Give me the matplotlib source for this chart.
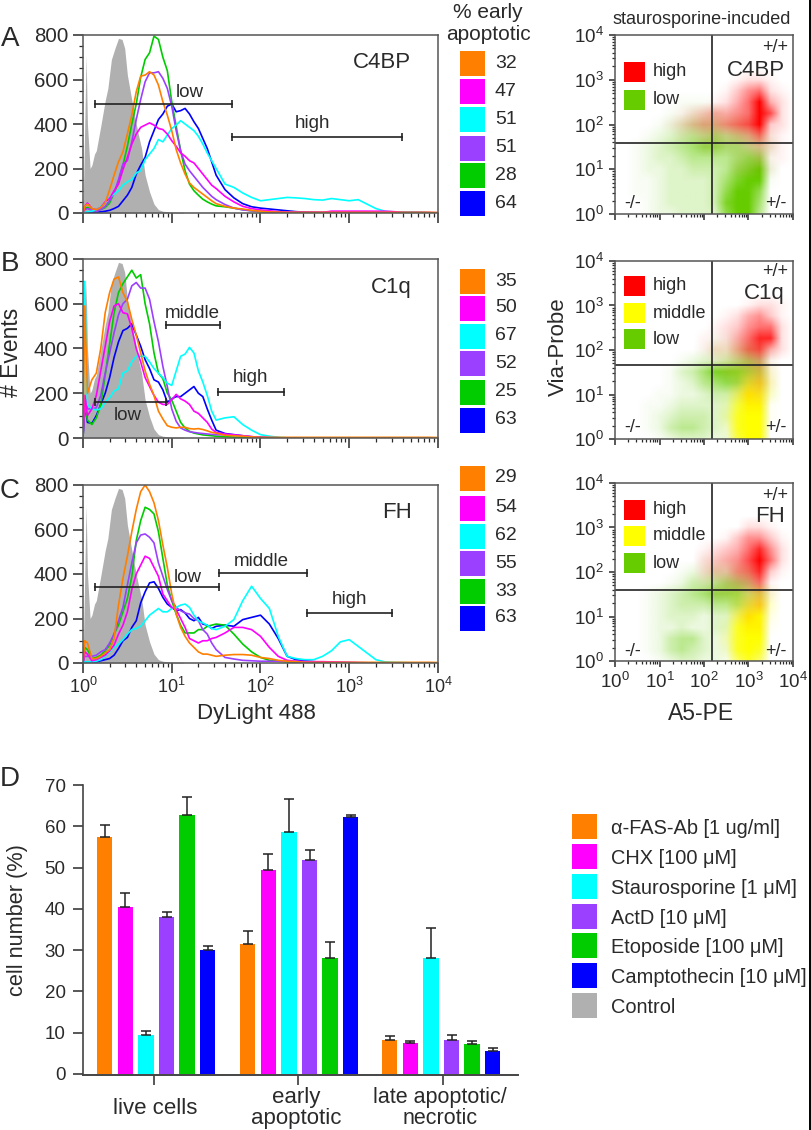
import numpy as np
import matplotlib
matplotlib.use('Agg')
import matplotlib.pyplot as plt
from matplotlib.colors import to_rgb
from matplotlib.patches import Rectangle
from matplotlib.ticker import MultipleLocator, LogLocator, NullFormatter

plt.rcParams['font.family'] = ['Liberation Sans', 'DejaVu Sans']
plt.rcParams['mathtext.default'] = 'regular'

W, H = 812, 1130
TXT = '#2a2a2a'

ORANGE, MAGENTA, CYAN = '#ff7f00', '#ff00ff', '#00ffff'
PURPLE, GREEN, BLUE = '#9b40ff', '#00cc00', '#0000ff'
GRAY = '#b0b0b0'
LOW, MID, HIGH = '#66cc00', '#ffff00', '#ff0000'

# histogram channel positions, log10 of DyLight 488
LOGX = [0, .02, .05, .10, .15, .20, .25, .30, .35, .40, .45, .50, .55, .60, .65, .70, .75, .80, .85, .90, .95,
        1.0, 1.05, 1.10, 1.15, 1.20, 1.25, 1.30, 1.35, 1.40, 1.45, 1.50, 1.6, 1.7, 1.8, 1.9, 2.0, 2.1, 2.2, 2.3,
        2.4, 2.5, 2.6, 2.7, 2.8, 2.9, 3.0, 3.1, 3.2, 3.3, 3.4, 3.5, 3.6, 3.7, 3.8, 3.9, 4.0]

control_x = [0, .02, .035, .05, .08, .10, .13, .15, .20, .25, .28, .32, .36, .40, .44, .47, .50, .54, .58, .62,
             .66, .70, .75, .80, .85, .90, 1.0, 1.13, 1.14]
control_y = [0, 400, 710, 400, 200, 215, 265, 280, 390, 505, 560, 690, 740, 785, 780, 740, 620, 530, 440, 360,
             290, 170, 95, 40, 15, 8, 4, 3, 0]

a_orange = [0, 30, 40, 20, 15, 25, 45, 105, 170, 230, 275, 355, 440, 545, 615, 620, 635, 620, 575, 500, 440,
            370, 285, 225, 175, 135, 115, 100, 85, 70, 55, 42, 30, 22, 18, 12, 8, 5, 4, 3,
            3, 3, 3, 3, 3, 3, 3, 3, 3, 3, 3, 3, 3, 3, 3, 3, 2]
a_green = [0, 20, 25, 15, 10, 15, 25, 45, 90, 140, 215, 300, 400, 490, 610, 690, 720, 795, 780, 700, 640,
           500, 390, 280, 190, 130, 100, 80, 62, 50, 40, 32, 28, 22, 15, 10, 6, 4, 2, 1,
           1, 1, 0, 0, 0, 0, 0, 0, 0, 0, 0, 0, 0, 0, 0, 0, 0]
a_magenta = [0, 30, 45, 20, 15, 25, 50, 65, 100, 130, 195, 250, 310, 355, 385, 395, 405, 395, 380, 375, 355,
             325, 300, 270, 255, 235, 225, 200, 175, 150, 125, 110, 75, 50, 30, 20, 14, 10, 6, 4,
             3, 3, 3, 3, 8, 8, 8, 8, 8, 8, 8, 6, 3, 2, 2, 2, 1]
a_purple = [0, 15, 20, 12, 8, 15, 30, 55, 90, 150, 220, 235, 320, 420, 510, 590, 630, 630, 635, 605, 560,
            480, 370, 280, 220, 190, 165, 140, 115, 95, 75, 60, 38, 22, 14, 10, 8, 6, 5, 4,
            4, 3, 3, 3, 6, 6, 6, 6, 6, 5, 5, 3, 2, 2, 2, 1, 1]
a_blue = [0, 2, 3, 3, 3, 5, 8, 12, 20, 30, 55, 80, 115, 175, 215, 250, 320, 370, 420, 445, 480,
          490, 455, 460, 470, 445, 410, 380, 335, 290, 230, 170, 105, 68, 42, 28, 22, 18, 14, 10,
          6, 4, 3, 2, 2, 2, 2, 2, 2, 2, 2, 2, 2, 3, 2, 1, 0]
a_cyan = [0, 3, 5, 8, 15, 30, 45, 70, 85, 100, 125, 140, 150, 180, 190, 240, 265, 290, 330, 320, 350,
          380, 395, 415, 400, 385, 370, 345, 310, 270, 235, 200, 130, 115, 90, 70, 55, 60, 65, 70,
          68, 65, 60, 58, 65, 60, 55, 60, 40, 20, 8, 5, 5, 3, 2, 1, 0]

b_orange = [0, 590, 200, 260, 290, 400, 560, 650, 710, 720, 650, 610, 530, 460, 380, 300, 240, 190, 120, 85, 55,
            48, 45, 48, 48, 42, 40, 42, 38, 32, 25, 22, 12, 10, 8, 5, 3, 3, 3, 3,
            3, 3, 3, 3, 3, 3, 3, 3, 3, 3, 3, 3, 3, 3, 3, 3, 2]
b_green = [0, 150, 80, 60, 90, 150, 280, 420, 560, 650, 690, 720, 750, 715, 730, 600, 510, 380, 290, 265, 200,
           170, 120, 70, 45, 30, 22, 18, 14, 12, 10, 8, 6, 4, 2, 1, 0, 0, 0, 0,
           0, 0, 0, 0, 0, 0, 0, 0, 0, 0, 0, 0, 0, 0, 0, 0, 0]
b_magenta = [0, 190, 100, 130, 190, 300, 410, 520, 590, 600, 560, 555, 490, 400, 340, 270, 230, 190, 160, 150, 150,
             170, 195, 175, 165, 150, 120, 110, 90, 70, 40, 25, 18, 14, 10, 6, 3, 2, 1, 0,
             0, 0, 0, 0, 0, 0, 0, 0, 0, 0, 0, 0, 0, 0, 0, 0, 0]
b_purple = [0, 190, 130, 130, 135, 190, 290, 380, 470, 550, 600, 620, 680, 695, 670, 670, 620, 520, 430, 320, 230,
            130, 75, 45, 35, 28, 25, 22, 20, 18, 16, 15, 14, 12, 10, 6, 3, 2, 1, 0,
            0, 0, 0, 0, 0, 0, 0, 0, 0, 0, 0, 0, 0, 0, 0, 0, 0]
b_blue = [0, 150, 70, 65, 100, 150, 200, 270, 360, 430, 480, 490, 510, 460, 410, 350, 310, 260, 250, 215, 160,
          175, 185, 185, 200, 215, 230, 200, 185, 130, 80, 35, 20, 15, 10, 5, 3, 2, 1, 0,
          0, 0, 0, 0, 0, 0, 0, 0, 0, 0, 0, 0, 0, 0, 0, 0, 0]
b_cyan = [0, 700, 150, 130, 125, 130, 160, 180, 210, 220, 290, 300, 340, 365, 365, 365, 340, 310, 290, 270, 245,
          235, 300, 365, 375, 405, 380, 300, 250, 190, 120, 80, 90, 95, 60, 35, 15, 8, 3, 1,
          0, 0, 0, 0, 0, 0, 0, 0, 0, 0, 0, 0, 0, 0, 0, 0, 0]

c_orange = [0, 100, 90, 20, 20, 30, 45, 60, 110, 260, 380, 480, 590, 690, 770, 800, 770, 720, 640, 530, 430,
            310, 220, 160, 120, 90, 70, 50, 40, 40, 35, 30, 35, 38, 38, 35, 25, 20, 12, 8,
            6, 3, 3, 3, 3, 3, 3, 3, 3, 3, 3, 3, 3, 3, 3, 3, 2]
c_green = [0, 70, 60, 20, 25, 35, 55, 80, 130, 170, 230, 290, 390, 550, 640, 700, 690, 670, 590, 470, 350,
           280, 220, 170, 135, 135, 135, 150, 150, 165, 170, 175, 170, 130, 85, 50, 25, 12, 8, 5,
           3, 2, 1, 0, 0, 0, 0, 0, 0, 0, 0, 0, 0, 0, 0, 0, 0]
c_magenta = [0, 50, 40, 10, 15, 25, 35, 55, 80, 130, 170, 230, 330, 400, 440, 480, 470, 430, 390, 310, 280,
             250, 240, 200, 160, 110, 100, 90, 100, 100, 110, 115, 135, 160, 160, 150, 120, 70, 30, 12,
             8, 6, 6, 6, 5, 4, 3, 2, 1, 0, 0, 0, 0, 0, 0, 0, 0]
c_purple = [0, 30, 30, 30, 35, 50, 60, 90, 130, 190, 250, 350, 450, 540, 575, 580, 565, 540, 450, 390, 330,
            280, 250, 235, 225, 220, 200, 190, 150, 130, 90, 60, 25, 18, 12, 10, 8, 8, 8, 8,
            6, 6, 5, 5, 4, 3, 2, 1, 1, 0, 0, 0, 0, 0, 0, 0, 0]
c_blue = [0, 5, 5, 5, 5, 10, 15, 20, 35, 65, 100, 115, 160, 190, 270, 320, 360, 365, 335, 295, 265,
          250, 235, 240, 225, 200, 190, 205, 175, 170, 155, 165, 170, 165, 195, 205, 215, 175, 110, 30,
          15, 10, 6, 4, 2, 1, 1, 0, 0, 0, 0, 0, 0, 0, 0, 0, 0]
c_cyan = [0, 5, 5, 5, 8, 15, 30, 50, 70, 85, 105, 130, 150, 155, 165, 190, 215, 230, 245, 230, 230,
          245, 250, 260, 265, 250, 215, 190, 180, 170, 155, 150, 165, 195, 280, 345, 290, 245, 120, 30,
          20, 15, 15, 30, 55, 95, 105, 75, 45, 15, 5, 3, 2, 1, 0, 0, 0]

pct_a = ['32', '47', '51', '51', '28', '64']
pct_b = ['35', '50', '67', '52', '25', '63']
pct_c = ['29', '54', '62', '55', '33', '63']

# gates: name, from, to (log10), height, label x, label y
gates_a = [('low', .13, 1.68, 490, 1.20, 540), ('high', 1.68, 3.60, 340, 2.59, 400)]
gates_b = [('low', .13, .93, 160, .50, 100), ('middle', .93, 1.54, 505, 1.23, 555), ('high', 1.52, 2.27, 206, 1.89, 270)]
gates_c = [('low', .14, 1.53, 342, 1.18, 385), ('middle', 1.53, 2.52, 404, 2.01, 455), ('high', 2.52, 3.48, 224, 3.00, 285)]

# dot density, 0 (none) to 9 (solid).
# rows run from 10^4 down to 10^0, columns from 10^0 to 10^4, quarter decade apart
EMPTY = '0' * 17
a_low = [EMPTY] * 6 + ['00000011100000000', '00000112221110000', '00001234443321000', '00012345565543100',
         '00123456776654200', '00123345555677100', '00122334445789200', '00112333346899100',
         '00112333347997000', '00012333348996000', '00012233337995000']
a_high = [EMPTY] * 4 + ['00000000000122100', '00000000001356210', '00000000012469420', '00000012344569720',
          '00000123445679320', '00000011222346210', '00000000111123210', '00000000000112110',
          '00000000000111100'] + [EMPTY] * 4
b_low = [EMPTY] * 7 + ['00000000011111000', '00000000122343100', '00000012334565100', '00000134688876100',
         '00000123567765100', '00001122344443100', '00011233333332000', '00012344433232000',
         '00012455432232000', '00001233322221000']
b_mid = [EMPTY] * 8 + ['00000000011100000', '00000000001110000', '00000000001234200', '00000000000267300',
         '00000000001598300', '00000000002799100', '00000000003899100', '00000000002899000', '00000000001799000']
b_high = [EMPTY] * 4 + ['00000000000012210', '00000000001245310', '00000000012356620', '00000000112468820',
          '00000000122467420', '00000000011234100', '00000000001123100', '00000000000123100',
          '00000000000122000', '00000000000011000'] + [EMPTY] * 3
c_low = [EMPTY] * 7 + ['00000000111100000', '00000012233331000', '00000124456652000', '00012345677755100',
         '00012344455653000', '00012333233332000', '00012232233221000', '00012455322222000',
         '00012454322222000', '00001233221111000']
c_mid = [EMPTY] * 10 + ['00000000001235200', '00000000001368300', '00000000001699200', '00000000002899100',
         '00000000003899000', '00000000002898000', '00000000001686000']
c_high = [EMPTY] * 4 + ['00000000000022100', '00000000001355310', '00000000123468520', '00000000234579620',
          '00000000233568310', '00000000112346100', '00000000011123100', '00000000000123000',
          '00000000000121000', '00000000000011000'] + [EMPTY] * 3

quad_x = 151
quad_a, quad_b, quad_c = 39, 46, 40

# bar panel
groups = ['live cells', 'early\napoptotic', 'late apoptotic/\nnecrotic']
treatments = ['α-FAS-Ab [1 ug/ml]', 'CHX [100 μM]', 'Staurosporine [1 μM]', 'ActD [10 μM]',
              'Etoposide [100 μM]', 'Camptothecin [10 μM]', 'Control']
live_mean = [57.5, 40.5, 9.3, 38.0, 62.7, 30.0]
live_top = [60.2, 43.9, 10.3, 39.2, 67.2, 30.9]
early_mean = [31.5, 49.5, 58.7, 51.9, 28.0, 62.2]
early_top = [34.7, 53.2, 66.6, 54.3, 32.0, 62.8]
late_mean = [8.2, 7.4, 28.1, 8.1, 7.2, 5.5]
late_top = [9.1, 7.9, 35.4, 9.4, 7.9, 6.3]

curve_colors = [BLUE, GREEN, PURPLE, CYAN, MAGENTA, ORANGE]
swatch_colors = [ORANGE, MAGENTA, CYAN, PURPLE, GREEN, BLUE]


def px_axes(fig, left, top, right, bottom):
    return fig.add_axes([left / W, 1 - bottom / H, (right - left) / W, (bottom - top) / H])


def style_log(axis):
    axis.set_major_locator(LogLocator(base=10, numticks=6))
    axis.set_minor_locator(LogLocator(base=10, subs=np.arange(2, 10), numticks=6))
    axis.set_minor_formatter(NullFormatter())


def hist_panel(fig, top, bottom, curves, gates, show_x):
    ax = px_axes(fig, 83, top, 438, bottom)
    ax.fill_between(10 ** np.array(control_x), control_y, color=GRAY, lw=0)
    for y, c in zip(curves, curve_colors):
        ax.plot(10 ** np.array(LOGX), y, color=c, lw=1.2)
    for label, a, b, h, lx, ly in gates:
        ax.plot([10 ** a, 10 ** b], [h, h], color='#222222', lw=1.2, marker='|', ms=6, mew=1.2)
        ax.text(10 ** lx, ly, label, ha='center', va='center', fontsize=13.5, color=TXT)
    ax.set_xscale('log')
    ax.set_xlim(1, 1e4)
    ax.set_ylim(0, 800)
    ax.yaxis.set_major_locator(MultipleLocator(200))
    ax.yaxis.set_minor_locator(MultipleLocator(50))
    style_log(ax.xaxis)
    ax.tick_params(which='major', length=7, width=1.1, labelsize=13, colors=TXT, pad=3)
    ax.tick_params(axis='y', labelsize=14.8, pad=3.5)
    ax.tick_params(which='minor', length=3, width=0.9, color=TXT)
    ax.tick_params(axis='x', labelbottom=show_x)
    for s in ax.spines.values():
        s.set_color('#555555')
        s.set_linewidth(1.1)
    return ax


def density_layer(ax, rows, color):
    vals = np.array([[int(ch) for ch in r] for r in rows], dtype=float) / 9
    rgba = np.zeros(vals.shape + (4,))
    rgba[..., :3] = to_rgb(color)
    rgba[..., 3] = vals ** 1.4
    # rows sit on the quarter decades, so the cell edges hang half a step past the axes
    ax.imshow(rgba, extent=[-.125, 4.125, -.125, 4.125], aspect='auto', interpolation='bilinear')


def dot_panel(fig, top, bottom, layers, quad_y, show_x):
    bg = px_axes(fig, 615, top, 793, bottom)
    for rows, color in layers:
        density_layer(bg, rows, color)
    bg.set_xlim(0, 4)
    bg.set_ylim(0, 4)
    bg.axis('off')
    ax = px_axes(fig, 615, top, 793, bottom)
    ax.patch.set_visible(False)
    ax.set_xscale('log')
    ax.set_yscale('log')
    ax.axvline(quad_x, color='#222222', lw=1.2)
    ax.axhline(quad_y, color='#222222', lw=1.2)
    ax.set_xlim(1, 1e4)
    ax.set_ylim(1, 1e4)
    style_log(ax.xaxis)
    style_log(ax.yaxis)
    ax.tick_params(which='major', length=4, width=1.1, labelsize=13.5, colors=TXT, pad=4)
    ax.tick_params(which='minor', length=2, width=0.9, color=TXT)
    ax.tick_params(axis='x', labelbottom=show_x)
    for s in ax.spines.values():
        s.set_color('#555555')
        s.set_linewidth(1.1)
    return ax


fig = plt.figure(figsize=(W / 100, H / 100), dpi=100, facecolor='white')

hist_panel(fig, 35, 213, [a_blue, a_green, a_purple, a_cyan, a_magenta, a_orange], gates_a, False)
hist_panel(fig, 259, 438, [b_blue, b_green, b_purple, b_cyan, b_magenta, b_orange], gates_b, False)
hist_panel(fig, 485, 663, [c_blue, c_green, c_purple, c_cyan, c_magenta, c_orange], gates_c, True)

dot_panel(fig, 35, 214, [(a_low, LOW), (a_high, HIGH)], quad_a, False)
dot_panel(fig, 261, 439, [(b_low, LOW), (b_mid, MID), (b_high, HIGH)], quad_b, False)
dot_panel(fig, 483, 661, [(c_low, LOW), (c_mid, MID), (c_high, HIGH)], quad_c, True)

# bar panel, x in page pixels so the groups land where they do in the figure
ax = px_axes(fig, 83, 785, 518, 1075)
for start, means, tops in [(97, live_mean, live_top), (240, early_mean, early_top), (382, late_mean, late_top)]:
    for i, (m, t, c) in enumerate(zip(means, tops, swatch_colors)):
        x = start + 7.75 + i * 20.6
        ax.bar(x, m, width=15.5, color=c)
        ax.errorbar(x, m, yerr=[[0], [t - m]], color='#222222', lw=1.1, capsize=3.5, capthick=1.1)
ax.set_xlim(83, 518)
ax.set_ylim(-0.3, 70)
ax.set_yticks(range(0, 71, 10))
ax.set_xticks([154, 298, 443])
ax.set_xticklabels([])
ax.tick_params(length=7, width=1.1, colors=TXT, labelsize=13.5, pad=5.5)
for k in ['top', 'right']:
    ax.spines[k].set_visible(False)
ax.spines['left'].set_linewidth(1.2)
ax.spines['left'].set_color('#444444')
ax.spines['bottom'].set_linewidth(1.4)
ax.spines['bottom'].set_color('#444444')

# page overlay in pixels for everything sitting outside the axes
pg = fig.add_axes([0, 0, 1, 1], zorder=10)
pg.set_xlim(0, W)
pg.set_ylim(H, 0)
pg.axis('off')


def put(x, y, s, size=12.5, ha='center', **kw):
    pg.text(x, y, s, fontsize=size, ha=ha, va='center', color=TXT, **kw)


def box(x0, y0, x1, y1, c):
    pg.add_patch(Rectangle((x0, y0), x1 - x0, y1 - y0, facecolor=c, edgecolor='none'))


for letter, y in [('A', 39), ('B', 264), ('C', 491), ('D', 779)]:
    put(10, y, letter, 20)
put(382, 63, 'C4BP', 16)
put(391, 288, 'C1q', 16)
put(397, 513, 'FH', 16)
put(12, 352, '# Events', 16.5, rotation=90)
put(256, 714, 'DyLight 488', 16)
put(701, 714, 'A5-PE', 16.5)
put(558, 347, 'Via-Probe', 16, rotation=90)
put(488, 13, '% early', 15)
put(488, 34, 'apoptotic', 15)
put(702, 20, 'staurosporine-incuded', 13)

for ys, vals in [([63, 91, 119, 148, 175, 203], pct_a), ([281, 308, 336, 363, 392, 420], pct_b),
                 ([478, 508, 536, 563, 591, 618], pct_c)]:
    for y, v, c in zip(ys, vals, swatch_colors):
        box(460, y - 12.5, 485, y + 12.5, c)
        put(495, y, v, 14, ha='left')

for ys, rows in [([72, 100], [('high', HIGH), ('low', LOW)]),
                 ([286, 313, 339], [('high', HIGH), ('middle', MID), ('low', LOW)]),
                 ([510, 536, 563], [('high', HIGH), ('middle', MID), ('low', LOW)])]:
    for y, (t, c) in zip(ys, rows):
        box(624, y - 10, 645, y + 10, c)
        put(653, y, t, 13, ha='left')

for top, name, nx, ny, low_y in [(48, 'C4BP', 756, 71, 203), (271, 'C1q', 764, 293, 427), (495, 'FH', 770, 517, 652)]:
    put(775, top, '+/+', 13)
    put(nx, ny, name, 16)
    put(633, low_y, '-/-', 13)
    put(776, low_y, '+/-', 13)

put(18, 920, 'cell number (%)', 15.7, rotation=90)
put(155, 1108, groups[0], 16)
put(296, 1108, groups[1], 16, linespacing=1.05)
put(440, 1108, groups[2], 15.5, linespacing=1.05)
for i, (t, c) in enumerate(zip(treatments, swatch_colors + [GRAY])):
    y = 826.5 + i * 29.85
    box(572, y - 12.5, 597, y + 12.5, c)
    put(611, y + 2, t, 14.4, ha='left')

pg.plot([810.5, 810.5], [0, H], color='black', lw=1.4)

fig.savefig('out.png', dpi=100)
